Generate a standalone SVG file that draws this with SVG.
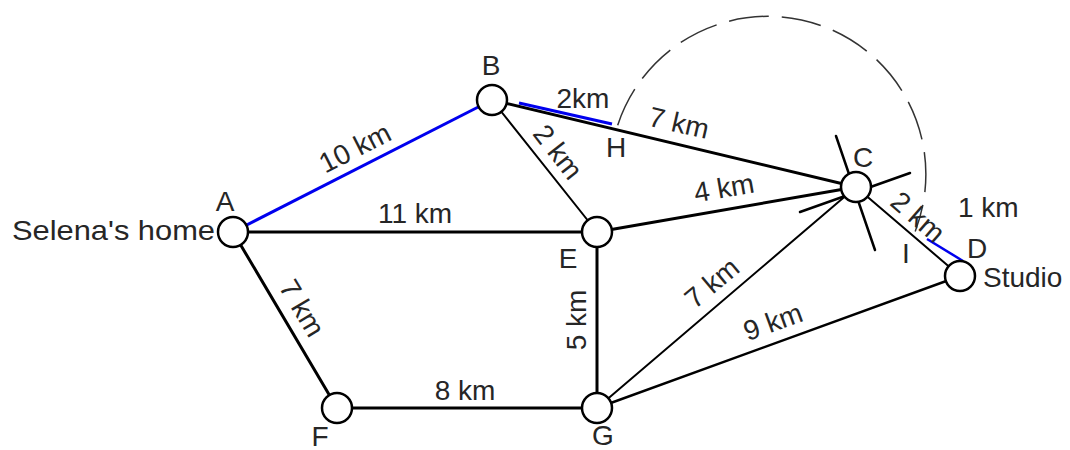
<svg xmlns="http://www.w3.org/2000/svg" width="1070" height="450" viewBox="0 0 1070 450">
<style>
.e{stroke:#000;stroke-width:3;fill:none;stroke-linecap:round}
.t{stroke-width:2}
.bl{stroke:#0000ee;stroke-width:3;fill:none}
.n{fill:#fff;stroke:#000;stroke-width:2.5}
text{font-family:"Liberation Sans",Arial,sans-serif;font-size:28px;fill:#262626}
.m{text-anchor:middle}
.r{text-anchor:middle;dominant-baseline:central}
.arc{fill:none;stroke:#333;stroke-width:1.5;stroke-dasharray:40 13}
</style>
<rect width="1070" height="450" fill="#fff"/>
<g id="connectors">
<path class="arc" d="M617.7 125.2 A158 158 0 1 1 915.2 231.4"/>
<line class="bl" x1="233" y1="232" x2="492" y2="100"/>
<line class="e" x1="233" y1="232" x2="597" y2="232"/>
<line class="e" x1="233" y1="232" x2="337" y2="408"/>
<line class="e" x1="337" y1="408" x2="597" y2="408"/>
<line class="e" x1="597" y1="232" x2="597" y2="408"/>
<line class="e t" x1="492" y1="100" x2="597" y2="232"/>
<line class="e" x1="492" y1="100" x2="856" y2="187"/>
<line class="bl" x1="519" y1="103" x2="612" y2="124"/>
<line class="e" x1="597" y1="232" x2="856" y2="187"/>
<line class="e t" x1="597" y1="408" x2="856" y2="187"/>
<line class="e" x1="597" y1="408" x2="960" y2="276" style="stroke-width:2.5"/>
<line class="e t" x1="856" y1="187" x2="960" y2="276"/>
<line class="bl" x1="927" y1="239" x2="963" y2="261" style="stroke-width:2.5"/>
<line class="e" x1="836" y1="136" x2="875" y2="250" style="stroke-width:2.5"/>
<line class="e" x1="800" y1="212" x2="910" y2="173" style="stroke-width:2.5"/>
</g>
<g id="A"><circle class="n" cx="233" cy="232" r="15"/><text class="m" x="225" y="211">A</text><text x="12" y="240" textLength="203" lengthAdjust="spacingAndGlyphs">Selena's home</text></g>
<g id="B"><circle class="n" cx="492" cy="100" r="15"/><text class="m" x="491" y="75">B</text></g>
<g id="C"><circle class="n" cx="856" cy="187" r="15"/><text class="m" x="863" y="167">C</text></g>
<g id="D"><circle class="n" cx="960" cy="276" r="15"/><text class="m" x="977" y="258">D</text><text x="983" y="287">Studio</text></g>
<g id="E"><circle class="n" cx="597" cy="232" r="15"/><text class="m" x="568" y="268">E</text></g>
<g id="F"><circle class="n" cx="337" cy="408" r="15"/><text class="m" x="320" y="446">F</text></g>
<g id="G"><circle class="n" cx="597" cy="408" r="15"/><text class="m" x="603" y="445">G</text></g>
<g id="H"><text class="m" x="616" y="157">H</text></g>
<g id="I"><text class="m" x="906" y="263">I</text></g>
<g id="labels">
<text class="r" transform="translate(355,148) rotate(-27)">10 km</text>
<text class="m" x="415" y="223">11 km</text>
<text class="r" transform="translate(302,308) rotate(59)">7 km</text>
<text class="m" x="465" y="400">8 km</text>
<text class="r" transform="translate(576,320) rotate(-90)">5 km</text>
<text class="r" transform="translate(558,152) rotate(52)">2 km</text>
<text class="m" x="583" y="108">2km</text>
<text class="r" transform="translate(679,123) rotate(13)">7 km</text>
<text class="r" transform="translate(724,188) rotate(-10)">4 km</text>
<text class="r" transform="translate(918,217) rotate(41)">2 km</text>
<text x="958" y="217">1 km</text>
<text class="r" transform="translate(712,283) rotate(-40)">7 km</text>
<text class="r" transform="translate(773,322) rotate(-20)">9 km</text>
</g>
</svg>
